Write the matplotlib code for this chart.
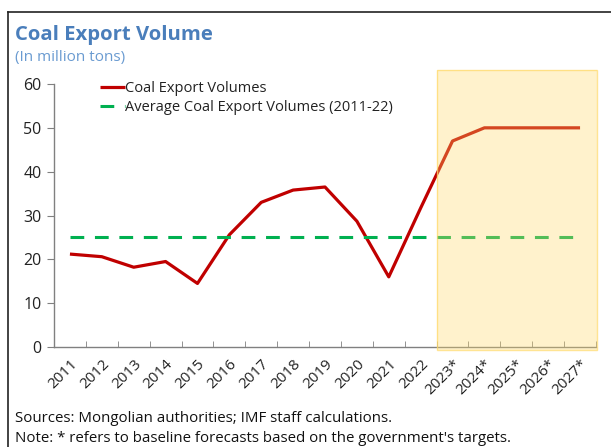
import matplotlib
matplotlib.use("Agg")
import matplotlib.pyplot as plt
from matplotlib.patches import Rectangle
from matplotlib.lines import Line2D

plt.rcParams['font.family'] = ['Open Sans', 'DejaVu Sans']

years = ["2011", "2012", "2013", "2014", "2015", "2016", "2017", "2018", "2019",
         "2020", "2021", "2022", "2023*", "2024*", "2025*", "2026*", "2027*"]
volumes = [21.2, 20.6, 18.2, 19.5, 14.5, 25.6, 33.0, 35.8, 36.5, 28.7, 16.0, 31.7,
           47.0, 50.0, 50.0, 50.0, 50.0]
average = 25.0
forecast_start = 12  # index of first forecast year

fig = plt.figure(figsize=(6.11, 4.47), dpi=100)
ax = fig.add_axes([54/611, 1-347/447, (596-54)/611, (347-84)/447])

x = list(range(len(years)))
red = '#C00000'
green = '#00B050'
ax.plot(x, volumes, color=red, lw=2.3, solid_capstyle='butt', zorder=3,
        label='Coal Export Volumes')
ax.plot([x[0], x[-1]], [average, average], color=green, lw=2.2,
        dashes=(4.5, 3.5), zorder=3, label='Average Coal Export Volumes (2011-22)')

ax.set_xlim(-0.5, len(years) - 0.5)
ax.set_ylim(0, 60)

# forecast shading drawn on top, translucent
rect = Rectangle((forecast_start - 0.5, -0.6), len(years) - forecast_start + 0.02, 63.8,
                 facecolor='#FFD966', alpha=0.33, edgecolor='none', zorder=4, clip_on=False)
ax.add_patch(rect)
rect2 = Rectangle((forecast_start - 0.5, -0.6), len(years) - forecast_start + 0.02, 63.8,
                  facecolor='none', edgecolor='#FFD966', lw=1.0, alpha=0.7, zorder=4, clip_on=False)
ax.add_patch(rect2)

for s in ['top', 'right']:
    ax.spines[s].set_visible(False)
for s in ['left', 'bottom']:
    ax.spines[s].set_color('#808080')
    ax.spines[s].set_linewidth(1.0)

ax.set_yticks(range(0, 61, 10))
ax.tick_params(axis='y', direction='out', length=5, color='#808080', labelsize=11.5,
               pad=4, labelcolor='#222222')
ax.set_xticks(x)
ax.set_xticklabels(years, rotation=45, ha='right', rotation_mode='anchor', fontsize=11)
ax.tick_params(axis='x', which='major', length=0, pad=7, labelcolor='#222222')
ax.set_xticks([i - 0.5 for i in range(1, len(years) + 1)], minor=True)
ax.tick_params(axis='x', which='minor', direction='in', length=4, color='#808080')

leg = ax.legend(loc='upper left', bbox_to_anchor=(0.074, 1.035), frameon=False,
                fontsize=10.5, handlelength=1.75, handletextpad=0.0, borderaxespad=0,
                labelspacing=0.3)
for t in leg.get_texts():
    t.set_color('#222222')

fig.text(15/611, 1-35/447, 'Coal Export Volume', fontsize=14.6, fontweight='bold',
         color='#4A7EBB', va='center', ha='left')
fig.text(15/611, 1-58/447, '(In million tons)', fontsize=11, color='#6A9BD1',
         va='center', ha='left')
fig.text(15/611, 1-418/447, 'Sources: Mongolian authorities; IMF staff calculations.',
         fontsize=10.8, color='#111111', va='center', ha='left')
fig.text(15/611, 1-438/447, "Note: * refers to baseline forecasts based on the government's targets.",
         fontsize=10.8, color='#111111', va='center', ha='left')

# outer frame (left and top edges)
fig.add_artist(Line2D([8/611, 8/611], [0, 1-12/447], transform=fig.transFigure,
                      color='#222222', lw=1.2))
fig.add_artist(Line2D([8/611, 1], [1-12/447, 1-12/447], transform=fig.transFigure,
                      color='#222222', lw=1.2))

fig.savefig('out.png', dpi=100)
